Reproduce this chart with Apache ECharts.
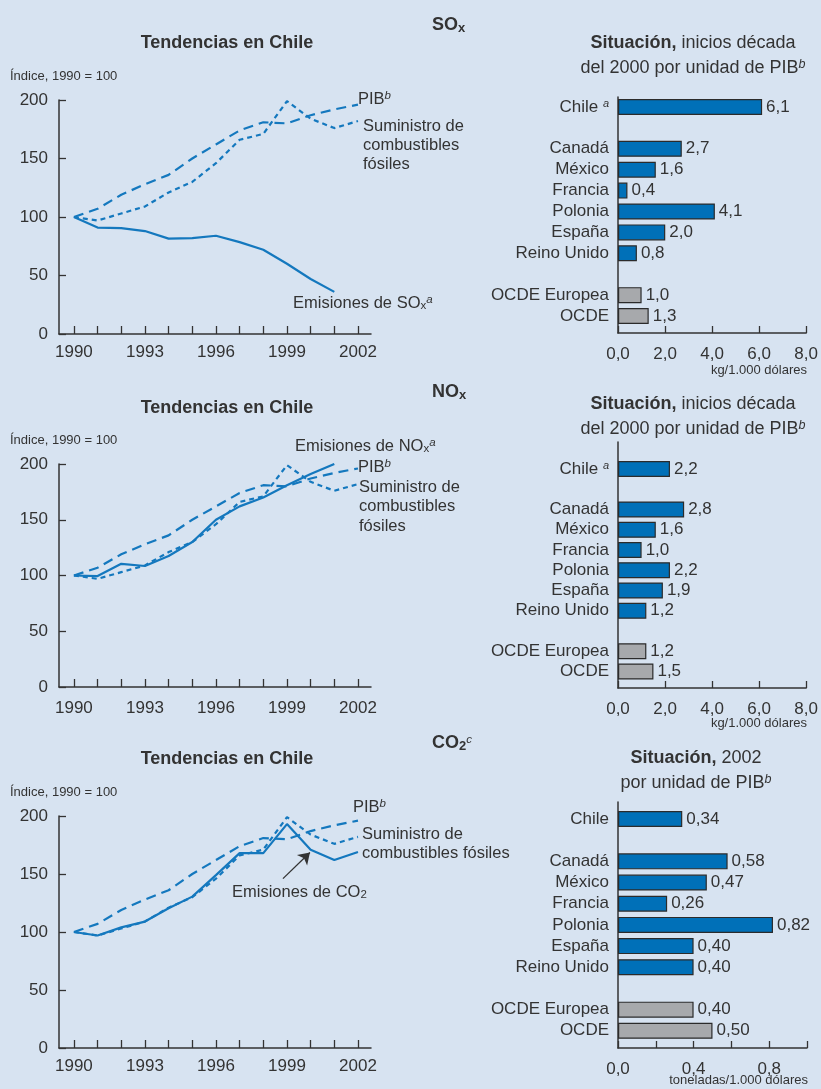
<!DOCTYPE html>
<html>
<head>
<meta charset="utf-8">
<script src="https://cdn.jsdelivr.net/npm/echarts@6/dist/echarts.min.js"></script>
<style>
    html, body { margin: 0; padding: 0; background: #d7e3f1; }
    #chart { width: 821px; height: 1089px; }
</style>
</head>
<body>
<div id="chart"></div>
<script>
const years = [1990, 1991, 1992, 1993, 1994, 1995, 1996, 1997, 1998, 1999, 2000, 2001, 2002];
const yearLabels = [1990, 1993, 1996, 1999, 2002];
const indexTicks = [0, 50, 100, 150, 200];

const pib = [100, 107, 119, 128, 136, 150, 162, 174, 181, 180, 187, 192, 196];
const suministro = [100, 97, 103, 109, 121, 130, 146, 166, 171, 199, 184, 176, 182];
const emisionesSOx = [100, 91, 90.5, 88, 81.5, 82, 84, 78.5, 72, 60, 47, 36];
const emisionesNOx = [100, 99.5, 110.5, 108.5, 117.5, 130, 150, 162, 170, 181, 191, 200];
const emisionesCO2 = [100, 97, 104, 109, 120.5, 130.5, 149, 168, 168, 193, 171, 162, 169];

const countries = ['Chile', '', 'Canadá', 'México', 'Francia', 'Polonia', 'España', 'Reino Unido', ' ', 'OCDE Europea', 'OCDE'];
const barsSOx = [6.1, null, 2.7, 1.6, 0.4, 4.1, 2.0, 0.8, null, 1.0, 1.3];
const barsNOx = [2.2, null, 2.8, 1.6, 1.0, 2.2, 1.9, 1.2, null, 1.2, 1.5];
const barsCO2 = [0.34, null, 0.58, 0.47, 0.26, 0.82, 0.40, 0.40, null, 0.40, 0.50];
const kgTicks = [0, 2, 4, 6, 8];
const tonTicks = [0, 0.2, 0.4, 0.6, 0.8, 1.0];
const tonLabels = [0, 0.4, 0.8];

// arrow pointing at the CO2 emissions line [year, index]
const co2Arrow = [[1998.83, 146], [1999.97, 168.5]];

const F = "'Liberation Sans', Arial, sans-serif";
const TXT = '#333333';
const LINE = '#1478be';
const BLUE = '#0070b8';
const GREY = '#a7a9ac';
const FS = 17;

const comma = (v, d) => v.toFixed(d).replace('.', ',');

const grids = [];
const xAxes = [];
const yAxes = [];
const series = [];

function linePanel(top, height, emis, arrow, labelMargin) {
    const gi = grids.length;
    grids.push({ left: 59, top: top, width: 312, height: height });
    xAxes.push({
        gridIndex: gi, type: 'value', min: 1989.37, max: 2002.55,
        splitLine: { show: false },
        axisLine: { lineStyle: { color: TXT, width: 1.5 } },
        axisTick: { inside: true, length: 8, customValues: years, lineStyle: { color: TXT, width: 1.3 } },
        axisLabel: { customValues: yearLabels, margin: labelMargin, color: TXT, fontFamily: F, fontSize: FS, formatter: v => String(v) }
    });
    yAxes.push({
        gridIndex: gi, type: 'value', min: 0, max: 200, interval: 50,
        splitLine: { show: false },
        axisLine: { show: true, lineStyle: { color: TXT, width: 1.5 } },
        axisTick: { show: true, inside: true, length: 7, customValues: indexTicks, lineStyle: { color: TXT, width: 1.3 } },
        axisLabel: { margin: 11, color: TXT, fontFamily: F, fontSize: FS }
    });
    const pts = arr => arr.map((v, i) => [years[i], v]);
    series.push({
        type: 'line', xAxisIndex: gi, yAxisIndex: gi, data: pts(pib), symbol: 'none', z: 2,
        lineStyle: { color: LINE, width: 2.2, type: [10, 6] }
    });
    series.push({
        type: 'line', xAxisIndex: gi, yAxisIndex: gi, data: pts(suministro), symbol: 'none', z: 2,
        lineStyle: { color: LINE, width: 2.2, type: [5, 4] }
    });
    const s = {
        type: 'line', xAxisIndex: gi, yAxisIndex: gi, data: pts(emis), symbol: 'none', z: 3,
        lineStyle: { color: LINE, width: 2.2 }
    };
    if (arrow) {
        s.markLine = {
            silent: true, symbol: ['none', 'arrow'], symbolSize: 11,
            label: { show: false },
            lineStyle: { color: TXT, width: 1.3, type: 'solid' },
            data: [[{ coord: arrow[0] }, { coord: arrow[1] }]]
        };
    }
    series.push(s);
}

function barPanel(frameTop, frameH, barTop, barH, values, max, ticks, labels, decimals, supChile) {
    const fi = grids.length;
    grids.push({ left: 618, top: frameTop, width: 189, height: frameH });
    xAxes.push({
        gridIndex: fi, type: 'value', min: 0, max: max,
        splitLine: { show: false },
        axisLine: { lineStyle: { color: TXT, width: 1.5 } },
        axisTick: { inside: true, length: 7, customValues: ticks, lineStyle: { color: TXT, width: 1.3 } },
        axisLabel: { customValues: labels, margin: 13, color: TXT, fontFamily: F, fontSize: FS, formatter: v => comma(v, 1) }
    });
    yAxes.push({
        gridIndex: fi, type: 'value', min: 0, max: 1,
        splitLine: { show: false },
        axisLine: { show: true, lineStyle: { color: TXT, width: 1.5 } },
        axisTick: { show: false }, axisLabel: { show: false }
    });
    const bi = grids.length;
    grids.push({ left: 618, top: barTop, width: 189, height: barH });
    xAxes.push({ gridIndex: bi, type: 'value', min: 0, max: max, show: false });
    yAxes.push({
        gridIndex: bi, type: 'category', data: countries, inverse: true,
        axisLine: { show: false }, axisTick: { show: false },
        axisLabel: {
            interval: 0, margin: 9, color: TXT, fontFamily: F, fontSize: FS,
            formatter: v => (v === 'Chile' && supChile) ? '{n|Chile }{s|a}' : '{n|' + v + '}',
            rich: {
                n: { fontFamily: F, fontSize: FS, color: TXT },
                s: { fontFamily: F, fontSize: 11, fontStyle: 'italic', color: TXT, verticalAlign: 'top', padding: [0, 0, 7, 0] }
            }
        }
    });
    series.push({
        type: 'bar', xAxisIndex: bi, yAxisIndex: bi, barWidth: 16,
        data: values.map((v, i) => ({
            value: v,
            itemStyle: { color: i >= 9 ? GREY : BLUE, borderColor: '#2b2b2b', borderWidth: 1.2 }
        })),
        label: {
            show: true, position: 'right', distance: 4, color: TXT, fontFamily: F, fontSize: FS,
            formatter: p => p.value == null ? '' : comma(p.value, decimals)
        }
    });
}

linePanel(100, 234, emisionesSOx, null, 10);
linePanel(464, 223, emisionesNOx, null, 13);
linePanel(816, 232, emisionesCO2, co2Arrow, 10);
barPanel(97, 236, 96.5, 230, barsSOx, 8, kgTicks, kgTicks, 1, true);
barPanel(442, 246, 458.9, 222.7, barsNOx, 8, kgTicks, kgTicks, 1, true);
barPanel(802, 246, 808.4, 233, barsCO2, 1, tonTicks, tonLabels, 2, false);

const rich = {
    n: { fontFamily: F, fontSize: 16.5, fill: TXT },
    b: { fontFamily: F, fontSize: 18, fontWeight: 'bold', fill: TXT },
    t: { fontFamily: F, fontSize: 18, fill: TXT },
    sup: { fontFamily: F, fontSize: 11.5, fontStyle: 'italic', fill: TXT, verticalAlign: 'top', padding: [0, 0, 6, 0] },
    sub: { fontFamily: F, fontSize: 11.5, fill: TXT, verticalAlign: 'bottom', padding: [6, 0, 0, 0] },
    bsub: { fontFamily: F, fontSize: 13, fontWeight: 'bold', fill: TXT, verticalAlign: 'bottom', padding: [6, 0, 0, 0] },
    tsup: { fontFamily: F, fontSize: 12.5, fontStyle: 'italic', fill: TXT, verticalAlign: 'top', padding: [0, 0, 6, 0] }
};

function label(x, y, text, align) {
    return {
        type: 'text', x: x, y: y, silent: true,
        style: { text: text, rich: rich, fill: TXT, font: '16.5px ' + F, textAlign: align || 'left', textVerticalAlign: 'middle' }
    };
}

function small(x, y, text, align) {
    return {
        type: 'text', x: x, y: y, silent: true,
        style: { text: text, fill: TXT, font: '13px ' + F, textAlign: align || 'left', textVerticalAlign: 'middle' }
    };
}

const graphic = [
    // section headers
    label(432, 25, '{b|SO}{bsub|x}'),
    label(432, 392, '{b|NO}{bsub|x}'),
    label(432, 743, '{b|CO}{bsub|2}{sup|c}'),
    // left titles
    label(227, 43, '{b|Tendencias en Chile}', 'center'),
    label(227, 408, '{b|Tendencias en Chile}', 'center'),
    label(227, 759, '{b|Tendencias en Chile}', 'center'),
    small(10, 76, 'Índice, 1990 = 100'),
    small(10, 440, 'Índice, 1990 = 100'),
    small(10, 792, 'Índice, 1990 = 100'),
    // right titles
    label(693, 43, '{b|Situación,}{t| inicios década}', 'center'),
    label(693, 68, '{t|del 2000 por unidad de PIB}{tsup|b}', 'center'),
    label(693, 404, '{b|Situación,}{t| inicios década}', 'center'),
    label(693, 429, '{t|del 2000 por unidad de PIB}{tsup|b}', 'center'),
    label(696, 758, '{b|Situación,}{t| 2002}', 'center'),
    label(696, 783, '{t|por unidad de PIB}{tsup|b}', 'center'),
    // units
    small(807, 370, 'kg/1.000 dólares', 'right'),
    small(807, 723, 'kg/1.000 dólares', 'right'),
    small(808, 1080, 'toneladas/1.000 dólares', 'right'),
    // line labels, panel SOx
    label(358, 99, '{n|PIB}{sup|b}'),
    label(363, 126, '{n|Suministro de}'),
    label(363, 145, '{n|combustibles}'),
    label(363, 164, '{n|fósiles}'),
    label(293, 303, '{n|Emisiones de SO}{sub|x}{sup|a}'),
    // panel NOx
    label(295, 446, '{n|Emisiones de NO}{sub|x}{sup|a}'),
    label(358, 467, '{n|PIB}{sup|b}'),
    label(359, 487, '{n|Suministro de}'),
    label(359, 506, '{n|combustibles}'),
    label(359, 526, '{n|fósiles}'),
    // panel CO2
    label(353, 807, '{n|PIB}{sup|b}'),
    label(362, 834, '{n|Suministro de}'),
    label(362, 853, '{n|combustibles fósiles}'),
    label(232, 892, '{n|Emisiones de CO}{sub|2}')
];

const chart = echarts.init(document.getElementById('chart'));
chart.setOption({
    backgroundColor: '#d7e3f1',
    animation: false,
    grid: grids,
    xAxis: xAxes,
    yAxis: yAxes,
    series: series,
    graphic: graphic
});
</script>
</body>
</html>
